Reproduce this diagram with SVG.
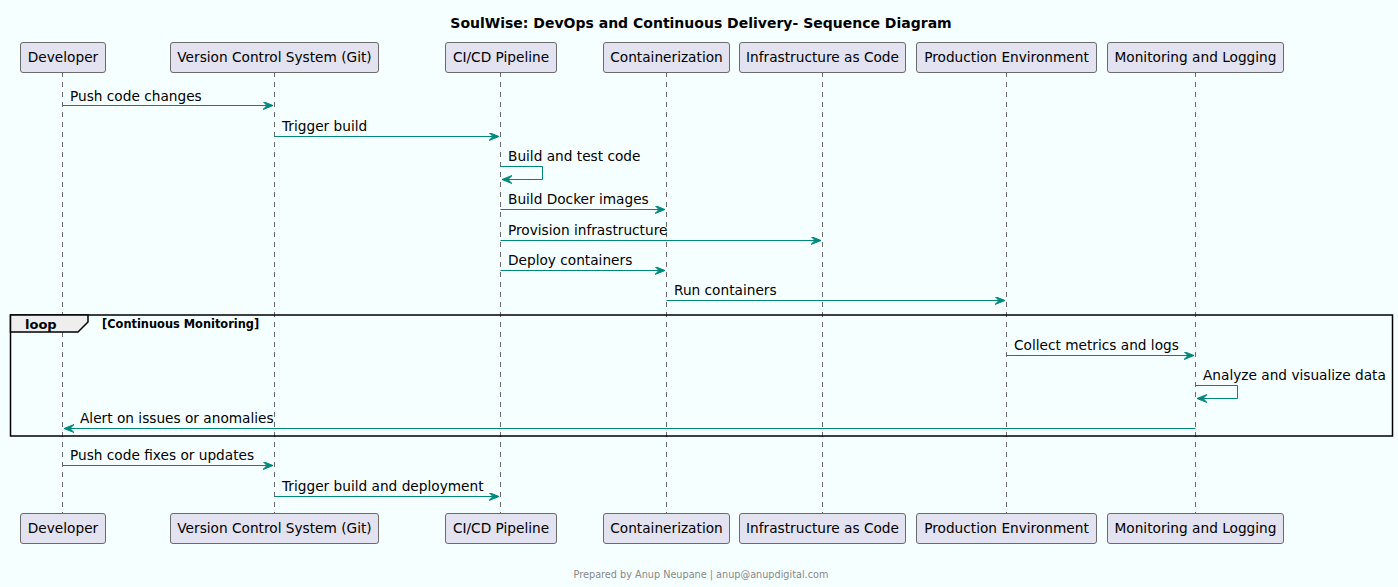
<svg xmlns="http://www.w3.org/2000/svg" width="1398" height="587" viewBox="0 0 1398 587">
<style>
text{font-family:"DejaVu Sans",Verdana,sans-serif;fill:#000}
.p rect{fill:#E2E2F0;stroke:#6b6b6b;stroke-width:1}
.p text{font-size:13.7px;text-anchor:middle}
.life{stroke:#6b6b6b;stroke-width:1;stroke-dasharray:5 5}
.m{stroke:#00897B;stroke-width:1;fill:none}
.ml{font-size:13.7px}
</style>
<defs>
<marker id="ah" markerUnits="userSpaceOnUse" markerWidth="12" markerHeight="10" refX="10" refY="4" orient="auto" viewBox="0 0 12 10">
<path d="M0,0 L10,4 L0,8 L4,4 Z" fill="#00897B" stroke="#00897B" stroke-width="1"/>
</marker>
</defs>
<rect width="1398" height="587" fill="#F5FFFF"/>
<text x="701" y="28" font-size="14" font-weight="bold" text-anchor="middle">SoulWise: DevOps and Continuous Delivery- Sequence Diagram</text>
<g id="lifelines">
<line class="life" x1="62.5" y1="72" x2="62.5" y2="513"/>
<line class="life" x1="274.5" y1="72" x2="274.5" y2="513"/>
<line class="life" x1="500.5" y1="72" x2="500.5" y2="513"/>
<line class="life" x1="666.5" y1="72" x2="666.5" y2="513"/>
<line class="life" x1="822.5" y1="72" x2="822.5" y2="513"/>
<line class="life" x1="1006.5" y1="72" x2="1006.5" y2="513"/>
<line class="life" x1="1195.5" y1="72" x2="1195.5" y2="513"/>
</g>
<g id="loop">
<rect x="10.5" y="315" width="1382" height="121" fill="none" stroke="#000" stroke-width="1.5"/>
<polygon points="10.5,315 88,315 88,322 78,332 10.5,332" fill="#EEEEEE" stroke="#000" stroke-width="1.5"/>
<text x="25" y="329" font-size="13" font-weight="bold">loop</text>
<text x="102" y="327.5" font-size="11.4" font-weight="bold">[Continuous Monitoring]</text>
</g>
<g id="p-developer" class="p">
<rect x="20.5" y="42.5" width="85" height="30" rx="2.5"/><text x="63" y="62">Developer</text>
<rect x="20.5" y="513.5" width="85" height="30" rx="2.5"/><text x="63" y="533">Developer</text>
</g>
<g id="p-vcs" class="p">
<rect x="170.5" y="42.5" width="208" height="30" rx="2.5"/><text x="274.5" y="62">Version Control System (Git)</text>
<rect x="170.5" y="513.5" width="208" height="30" rx="2.5"/><text x="274.5" y="533">Version Control System (Git)</text>
</g>
<g id="p-cicd" class="p">
<rect x="445.5" y="42.5" width="111" height="30" rx="2.5"/><text x="501" y="62">CI/CD Pipeline</text>
<rect x="445.5" y="513.5" width="111" height="30" rx="2.5"/><text x="501" y="533">CI/CD Pipeline</text>
</g>
<g id="p-container" class="p">
<rect x="603.5" y="42.5" width="126" height="30" rx="2.5"/><text x="666.5" y="62">Containerization</text>
<rect x="603.5" y="513.5" width="126" height="30" rx="2.5"/><text x="666.5" y="533">Containerization</text>
</g>
<g id="p-iac" class="p">
<rect x="739.5" y="42.5" width="166" height="30" rx="2.5"/><text x="822.5" y="62">Infrastructure as Code</text>
<rect x="739.5" y="513.5" width="166" height="30" rx="2.5"/><text x="822.5" y="533">Infrastructure as Code</text>
</g>
<g id="p-prod" class="p">
<rect x="916.5" y="42.5" width="180" height="30" rx="2.5"/><text x="1006.5" y="62">Production Environment</text>
<rect x="916.5" y="513.5" width="180" height="30" rx="2.5"/><text x="1006.5" y="533">Production Environment</text>
</g>
<g id="p-monitor" class="p">
<rect x="1107.5" y="42.5" width="176" height="30" rx="2.5"/><text x="1195.5" y="62">Monitoring and Logging</text>
<rect x="1107.5" y="513.5" width="176" height="30" rx="2.5"/><text x="1195.5" y="533">Monitoring and Logging</text>
</g>
<g id="connectors">
<line class="m" x1="62.5" y1="105.5" x2="273" y2="105.5" marker-end="url(#ah)"/>
<text class="ml" x="70" y="101">Push code changes</text>
<line class="m" x1="274.5" y1="136.5" x2="499" y2="136.5" marker-end="url(#ah)"/>
<text class="ml" x="282" y="131">Trigger build</text>
<polyline class="m" points="500.5,166.5 542.5,166.5 542.5,179.5 502,179.5" marker-end="url(#ah)"/>
<text class="ml" x="508" y="161">Build and test code</text>
<line class="m" x1="500.5" y1="209.5" x2="665" y2="209.5" marker-end="url(#ah)"/>
<text class="ml" x="508" y="204">Build Docker images</text>
<line class="m" x1="500.5" y1="240.5" x2="821" y2="240.5" marker-end="url(#ah)"/>
<text class="ml" x="508" y="235">Provision infrastructure</text>
<line class="m" x1="500.5" y1="270.5" x2="665" y2="270.5" marker-end="url(#ah)"/>
<text class="ml" x="508" y="265">Deploy containers</text>
<line class="m" x1="666.5" y1="300.5" x2="1005" y2="300.5" marker-end="url(#ah)"/>
<text class="ml" x="674" y="295">Run containers</text>
<line class="m" x1="1006.5" y1="355.5" x2="1194" y2="355.5" marker-end="url(#ah)"/>
<text class="ml" x="1014" y="350">Collect metrics and logs</text>
<polyline class="m" points="1195.5,385.5 1237.5,385.5 1237.5,398.5 1197,398.5" marker-end="url(#ah)"/>
<text class="ml" x="1203" y="380">Analyze and visualize data</text>
<line class="m" x1="1195.5" y1="428.5" x2="64" y2="428.5" marker-end="url(#ah)"/>
<text class="ml" x="80" y="423">Alert on issues or anomalies</text>
<line class="m" x1="62.5" y1="465.5" x2="273" y2="465.5" marker-end="url(#ah)"/>
<text class="ml" x="70" y="460">Push code fixes or updates</text>
<line class="m" x1="274.5" y1="496.5" x2="499" y2="496.5" marker-end="url(#ah)"/>
<text class="ml" x="282" y="491">Trigger build and deployment</text>
</g>
<text x="701" y="578" font-size="9.7" text-anchor="middle" style="fill:#888888">Prepared by Anup Neupane | anup@anupdigital.com</text>
</svg>
